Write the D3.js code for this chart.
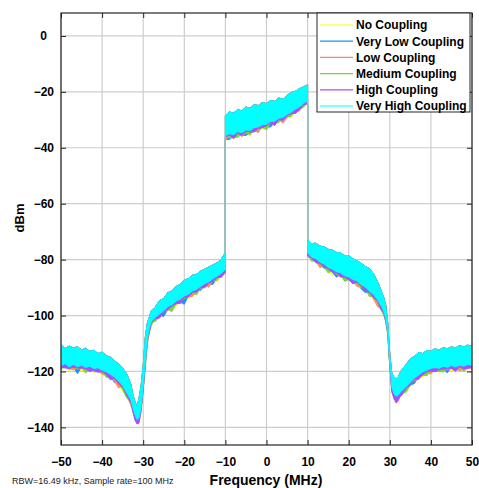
<!DOCTYPE html>
<html>
<head>
<meta charset="utf-8">
<script src="https://cdn.jsdelivr.net/npm/d3@7"></script>
<style>
  html, body { margin: 0; padding: 0; background: #fff; }
  svg { display: block; font-family: "Liberation Sans", Arial, Helvetica, sans-serif; }
</style>
</head>
<body>
<svg id="chart" width="479" height="488"></svg>
<script>
// ---------------- data ----------------
const seriesNames = ["No Coupling", "Very Low Coupling", "Low Coupling", "Medium Coupling", "High Coupling", "Very High Coupling"];
const seriesColors = ["#ffff00", "#1e8fff", "#ff8c55", "#77d63a", "#a650ff", "#00ffff"];

const xTicks = [-50, -40, -30, -20, -10, 0, 10, 20, 30, 40, 50];
const yTicks = [-140, -120, -100, -80, -60, -40, -20, 0];

// frequency grid (MHz); -10 and 10 appear twice for the band edges
const freq = [
  -50,-49,-48,-47,-46,-45,-44,-43,-42,-41,-40,-39,-38,-37,-36,-35,-34,-33,
  -32.5,-32,-31.5,-31,-30.5,-30,-29.5,-29,-28.5,
  -28,-27,-26,-25,-24,-23,-22,-21,-20,-19,-18,-17,-16,-15,-14,-13,-12,-11,-10,
  -10,-9,-8,-7,-6,-5,-4,-3,-2,-1,0,1,2,3,4,5,6,7,8,9,10,
  10,11,12,13,14,15,16,17,18,19,20,21,22,23,24,25,26,27,28,
  28.5,29,29.5,30,30.5,31,31.5,32,32.5,
  33,34,35,36,37,38,39,40,41,42,43,44,45,46,47,48,49,50
];

// upper envelope of the traces (dBm)
const bandTop = [
  -110.5,-111.8,-110.9,-111.6,-111.2,-112.3,-111.7,-112.8,-112.4,-113.6,-113.1,-114.3,-114.9,-116.2,-117.3,-118.8,-120.9,-124.6,
  -128.5,-130.8,-132.5,-129.5,-125,-118,-108,-102.8,-100.5,
  -98.2,-96.8,-94.6,-93.9,-91.8,-91.2,-89.6,-88.9,-87.3,-86.8,-85.6,-85.2,-84.1,-83.4,-82.6,-81.9,-81.1,-79.8,-77.5,
  -28.5,-27.2,-27.6,-26.3,-26.8,-25.4,-25.9,-24.6,-24.9,-23.8,-24.2,-23.1,-23.4,-22.2,-22.6,-21.2,-20.3,-19.8,-18.9,-18.2,-17.5,
  -73,-74.3,-74.1,-75.2,-75.4,-76.3,-76.6,-77.4,-77.6,-78.5,-78.6,-79.7,-80.4,-81.3,-82.4,-83.2,-85,-87.8,-91.6,
  -93.5,-96.2,-102.7,-114,-120.8,-122,-122.6,-122.2,-120.5,
  -119.2,-117.5,-115.4,-114.6,-113.2,-113.6,-112.5,-112.8,-111.9,-112.4,-111.5,-111.9,-111.2,-111.6,-110.7,-111.3,-110.6,-110.9
];

// lower envelope of the Very High Coupling trace (dBm)
const veryHighLow = [
  -118.0,-117.2,-118.4,-117.5,-118.3,-117.8,-118.6,-118.1,-119.0,-118.7,-119.6,-120.1,-121.0,-122.0,-123.4,-125.0,-127.6,-130.2,
  -133.0,-135.5,-137.2,-136.5,-132.5,-125.3,-116.5,-108.5,-104.5,
  -102.0,-100.6,-99.4,-98.3,-96.8,-96.1,-94.8,-94.2,-93.0,-92.4,-91.2,-90.6,-89.5,-88.6,-87.9,-86.8,-85.9,-84.9,-83.5,
  -35.6,-35.0,-35.3,-34.3,-34.6,-33.6,-33.9,-32.8,-32.6,-31.8,-31.6,-30.6,-30.5,-29.4,-29.2,-28.1,-27.3,-26.2,-25.4,-24.1,-23.3,
  -77.5,-79.2,-79.6,-80.9,-81.6,-82.8,-83.4,-84.3,-84.7,-85.8,-86.2,-87.1,-87.6,-88.9,-89.8,-91.2,-92.5,-94.3,-96.8,
  -98.5,-100.8,-105.5,-117,-125.5,-128,-128.8,-128.6,-127.5,
  -126.8,-125.4,-123.9,-122.3,-121.3,-120.2,-119.6,-118.9,-118.6,-118.9,-118.2,-118.5,-117.9,-118.4,-117.8,-118.1,-117.5,-117.9
];

// how far (dB) each other trace dips below the Very High Coupling floor
const depthNo = [
  1,0.5,1.5,0.5,1,2,0.5,1,1.5,0.5,2,1,1.5,0.5,1,2,1,1.5,
  1,1.5,1,0.5,1,1.5,1,1.5,1,
  1,0.5,1.5,1,0.5,1,2,0.5,1,1.5,0.5,1,0.5,1.5,1,0.5,2,1,0.5,
  1,0.5,1.5,1,0.5,1,2,0.5,1,1.5,0.5,1,0.5,1.5,1,0.5,2,1,0.5,1,0.5,
  1,0.5,1.5,1,0.5,1,2,0.5,1,1.5,0.5,1,0.5,1.5,1,0.5,2,1,0.5,
  1,0.5,1,1.5,0.5,1,1.5,1,0.5,
  0.5,1,1.5,0.5,1,2,0.5,1,0.5,1.5,1,0.5,2,1,0.5,1,1.5,0.5
];
const depthVeryLow = [
  0.5,1.5,0.5,1,2.5,0.5,1,0.5,1,1.5,0.5,1,0.5,2,0.5,1,1.5,0.5,
  0.5,1,1.5,1,0.5,1,2,1,0.5,
  0.5,1,0.5,2,1,0.5,1,1,3,0.5,1,0.5,1.5,0.5,1,2,0.5,1,1,
  1.5,2,0.5,1,1,2,0.5,1.5,1,0.5,1,2,0.5,1,0.5,1,0.5,1.5,1,0.5,1,
  0.5,1,0.5,1,1.5,0.5,1,2,0.5,1,0.5,1,0.5,1.5,2,0.5,1,0.5,1,
  0.5,1,0.5,1,1.5,0.5,1,1.5,1,
  1,0.5,1,2,0.5,1,1.5,0.5,1,0.5,1,2,0.5,1,1.5,0.5,1,1
];
const depthLow = [
  0.5,1,0.5,2,0.5,1,1.5,0.5,1,0.5,1.5,0.5,1,1.5,2.5,0.5,1,2,
  1,0.5,1,1.5,1,0.5,1,2,1.5,
  1.5,0.5,1,0.5,1.5,1,0.5,1.5,0.5,1,2,0.5,1,0.5,2,0.5,1,0.5,1.5,
  2,0.5,1,0.5,1.5,1,0.5,1,2,0.5,1,0.5,1.5,0.5,2,1,0.5,1,1.5,0.5,1,
  1.5,0.5,1,2,0.5,1,0.5,1,1.5,0.5,1,0.5,2,1,0.5,1,1.5,2.5,1,
  1,1.5,1,0.5,1,1.5,1,0.5,1,
  1.5,1,0.5,1,1.5,0.5,1,2,0.5,1,0.5,1,1,0.5,2,1,0.5,1.5
];
const depthMedium = [
  1.5,0.5,1,0.5,1,0.5,2,1,0.5,1,0.5,2,1,1,0.5,1.5,2,0.5,
  1.5,1,1.5,1,2,1,1.5,1,1,
  0.5,1.5,1,0.5,1,2.5,1,0.5,1,0.5,1,2,0.5,1,0.5,1,1.5,0.5,1,
  0.5,1.5,1,2,0.5,1,1.5,0.5,1,1,2,0.5,1,1.5,0.5,1,1.5,0.5,1,1.5,0.5,
  0.5,1.5,0.5,1,1,2,0.5,1,0.5,2,1,1.5,0.5,1,0.5,2,0.5,1,1.5,
  1.5,1,1.5,1,1,2,1.5,1,1.5,
  1,2,1,0.5,1,1,2,0.5,1.5,1,2,0.5,1,1.5,0.5,2,1,0.5
];
const depthHigh = [
  0.5,1.5,0.5,1,0.5,1,0.5,2,0.5,1.5,0.5,1,2,0.5,1,0.5,1,1,
  1.5,2,1.5,2,1,1.5,1,0.5,1.5,
  0.5,0.5,1.5,0.5,1,0.5,1,1.5,0.5,1,0.5,1,0.5,1.5,0.5,1,0.5,1.5,1,
  0.5,0.5,1.5,0.5,1,0.5,0.5,1.5,0.5,1,0.5,0.5,1.5,0.5,1,0.5,0.5,1.5,1,0.5,1,
  1,0.5,1.5,0.5,1,0.5,1,0.5,1.5,0.5,1,1.5,0.5,0.5,1.5,0.5,1,0.5,1.5,
  0.5,1,0.5,1.5,2,1.5,2.5,2,1.5,
  1.5,0.5,1,0.5,1.5,1,0.5,1,1.5,0.5,1,0.5,1,1.5,0.5,1,1.5,0.5
];
const depthVeryHigh = freq.map(() => 0);

const depths = [depthNo, depthVeryLow, depthLow, depthMedium, depthHigh, depthVeryHigh];

// ---------------- layout ----------------
const svg = d3.select("#chart");
const L = 61, R = 472, T = 13, B = 445;
const x = d3.scaleLinear().domain([-50, 50]).range([L, R]);
const y = d3.scaleLinear().domain([-146.3, 8.2]).range([B, T]);
const axisColor = "#262626";

// grid
const grid = svg.append("g");
grid.selectAll("line.gx").data(xTicks).join("line")
  .attr("x1", d => x(d)).attr("x2", d => x(d)).attr("y1", T).attr("y2", B)
  .attr("stroke", "#cdcdcd").attr("stroke-width", 1.2);
grid.selectAll("line.gy").data(yTicks).join("line")
  .attr("x1", L).attr("x2", R).attr("y1", d => y(d)).attr("y2", d => y(d))
  .attr("stroke", "#cdcdcd").attr("stroke-width", 1.2);

// clip
svg.append("clipPath").attr("id", "plotclip").append("rect")
  .attr("x", L).attr("y", T).attr("width", R - L).attr("height", B - T);

const n = Math.min(freq.length, bandTop.length, veryHighLow.length);
const idx = d3.range(n);
const dataG = svg.append("g").attr("clip-path", "url(#plotclip)");

depths.forEach((dep, s) => {
  const area = d3.area()
    .x(i => x(freq[i]))
    .y0(i => y(veryHighLow[i] - (dep[i] || 0)))
    .y1(i => y(bandTop[i]));
  dataG.append("path")
    .datum(idx)
    .attr("d", area)
    .attr("fill", seriesColors[s])
    .attr("stroke", seriesColors[s])
    .attr("stroke-width", 0.9)
    .attr("stroke-linejoin", "miter");
});

// axes
const fontTick = "bold 12px 'Liberation Sans', Arial, sans-serif";
const gx = svg.append("g").attr("transform", `translate(0,${B})`)
  .call(d3.axisBottom(x).tickValues(xTicks).tickSize(-5).tickSizeOuter(0).tickPadding(12).tickFormat(d3.format("d")));
const gy = svg.append("g").attr("transform", `translate(${L},0)`)
  .call(d3.axisLeft(y).tickValues(yTicks).tickSize(-5).tickSizeOuter(0).tickPadding(7).tickFormat(d3.format("d")));
const gxt = svg.append("g").attr("transform", `translate(0,${T})`)
  .call(d3.axisTop(x).tickValues(xTicks).tickSize(-5).tickSizeOuter(0).tickFormat(""));
const gyr = svg.append("g").attr("transform", `translate(${R},0)`)
  .call(d3.axisRight(y).tickValues(yTicks).tickSize(-5).tickSizeOuter(0).tickFormat(""));

[gx, gy, gxt, gyr].forEach(g => {
  g.select(".domain").remove();
  g.selectAll(".tick line").attr("stroke", axisColor).attr("stroke-width", 1);
  g.selectAll(".tick text").style("font", fontTick).attr("fill", "#000");
});
gx.selectAll(".tick text").attr("dy", "0.71em");
gy.selectAll(".tick text").filter(d => d === 0).attr("dx", -7);

// box
svg.append("rect").attr("x", L).attr("y", T).attr("width", R - L).attr("height", B - T)
  .attr("fill", "none").attr("stroke", axisColor).attr("stroke-width", 1.2);

// axis labels
svg.append("text").attr("x", 266).attr("y", 485).attr("text-anchor", "middle")
  .style("font", "bold 14px 'Liberation Sans', Arial, sans-serif").text("Frequency (MHz)");
svg.append("text").attr("transform", "translate(24,218) rotate(-90)").attr("text-anchor", "middle")
  .style("font", "bold 13px 'Liberation Sans', Arial, sans-serif").text("dBm");
svg.append("text").attr("x", 12).attr("y", 484)
  .style("font", "9px 'Liberation Sans', Arial, sans-serif").attr("fill", "#222")
  .text("RBW=16.49 kHz, Sample rate=100 MHz");

// legend
const lg = svg.append("g");
lg.append("rect").attr("x", 317).attr("y", 13).attr("width", 153).attr("height", 99)
  .attr("fill", "#fff").attr("stroke", axisColor).attr("stroke-width", 1);
seriesNames.forEach((name, i) => {
  const yy = 25 + i * 16.2;
  lg.append("line").attr("x1", 320).attr("x2", 353).attr("y1", yy).attr("y2", yy)
    .attr("stroke", seriesColors[i]).attr("stroke-width", 1.2);
  lg.append("text").attr("x", 356).attr("y", yy).attr("dy", "0.36em")
    .style("font", "bold 12px 'Liberation Sans', Arial, sans-serif").text(name);
});
</script>
</body>
</html>
